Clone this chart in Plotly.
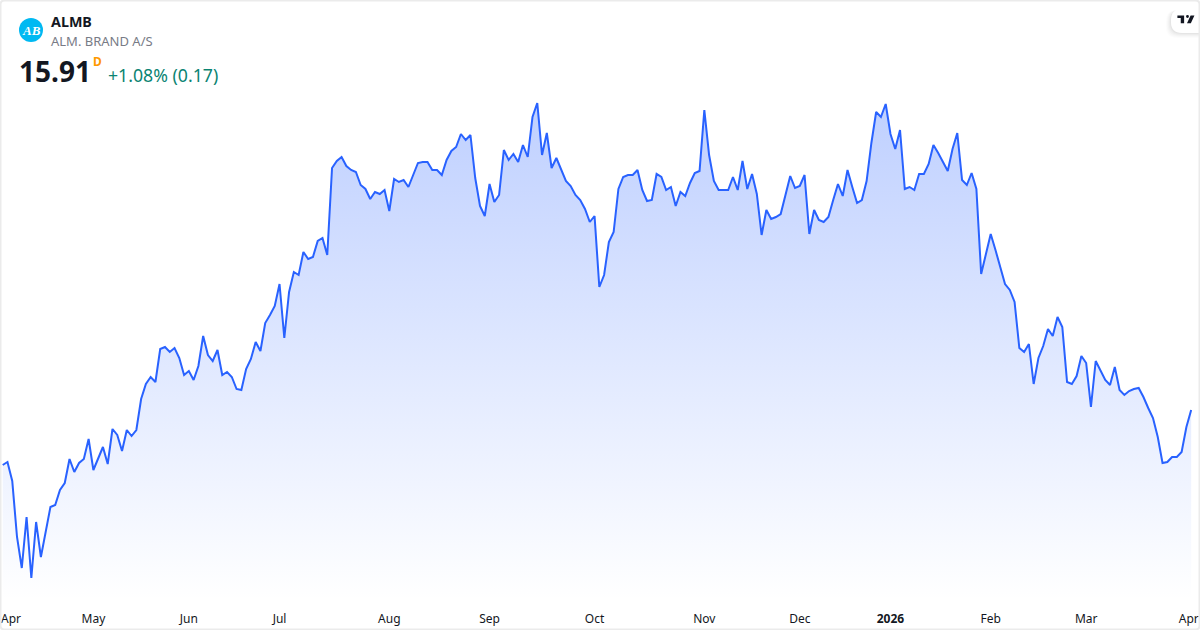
import plotly.graph_objects as go

# daily closes (DKK)
closes = [
    15.36, 15.39, 15.20, 14.64, 14.33, 14.84, 14.23, 14.79, 14.44, 14.68,
    14.94, 14.96, 15.11, 15.18, 15.42, 15.29, 15.38, 15.42, 15.62, 15.31,
    15.43, 15.54, 15.37, 15.72, 15.66, 15.50, 15.71, 15.65, 15.71, 16.02,
    16.17, 16.24, 16.19, 16.52, 16.54, 16.49, 16.53, 16.43, 16.26, 16.30,
    16.21, 16.35, 16.65, 16.46, 16.40, 16.51, 16.26, 16.29, 16.24, 16.12,
    16.11, 16.32, 16.42, 16.59, 16.50, 16.78, 16.86, 16.95, 17.17, 16.63,
    17.09, 17.29, 17.26, 17.49, 17.42, 17.44, 17.60, 17.63, 17.46, 18.33,
    18.40, 18.44, 18.35, 18.31, 18.29, 18.16, 18.12, 18.02, 18.09, 18.07,
    18.11, 17.90, 18.22, 18.19, 18.21, 18.14, 18.26, 18.38, 18.39, 18.39,
    18.31, 18.31, 18.26, 18.41, 18.50, 18.54, 18.67, 18.61, 18.66, 18.23,
    17.95, 17.85, 18.17, 17.99, 18.06, 18.51, 18.41, 18.47, 18.39, 18.56,
    18.44, 18.84, 18.98, 18.46, 18.68, 18.33, 18.43, 18.32, 18.20, 18.15,
    18.06, 18.01, 17.92, 17.79, 17.85, 17.14, 17.26, 17.59, 17.69, 18.12,
    18.24, 18.26, 18.26, 18.31, 18.11, 18.00, 18.01, 18.27, 18.24, 18.11,
    18.14, 17.95, 18.09, 18.05, 18.18, 18.28, 18.30, 18.91, 18.46, 18.20,
    18.11, 18.11, 18.11, 18.24, 18.11, 18.40, 18.12, 18.27, 18.07, 17.66,
    17.91, 17.82, 17.84, 17.87, 18.06, 18.25, 18.13, 18.15, 18.26, 17.67,
    17.91, 17.81, 17.79, 17.84, 18.01, 18.17, 18.05, 18.31, 18.14, 17.98,
    18.01, 18.20, 18.58, 18.89, 18.84, 18.97, 18.67, 18.52, 18.71, 18.12,
    18.14, 18.11, 18.27, 18.27, 18.37, 18.56, 18.48, 18.39, 18.30, 18.52,
    18.68, 18.21, 18.16, 18.28, 18.12, 17.27, 17.48, 17.67, 17.51, 17.34,
    17.17, 17.11, 16.99, 16.53, 16.49, 16.57, 16.17, 16.43, 16.55, 16.72,
    16.65, 16.84, 16.74, 16.19, 16.17, 16.25, 16.45, 16.38, 15.94, 16.40,
    16.31, 16.21, 16.16, 16.34, 16.11, 16.06, 16.10, 16.12, 16.13, 16.04,
    15.93, 15.83, 15.64, 15.38, 15.39, 15.44, 15.44, 15.49, 15.74, 15.91,
]
sessions = list(range(len(closes)))

month_labels = ["Apr", "May", "Jun", "Jul", "Aug", "Sep", "Oct", "Nov", "Dec", "<b>2026</b>", "Feb", "Mar", "Apr"]
# first and last label sit inside the frame, hence the fractional positions
month_ticks = [1.74, 19, 39, 58, 81, 102, 124, 147, 167, 186, 207, 227, 248.5]

W, H = 1200, 630
PLOT_H = 600  # paper coords only cover the plot area, the axis strip is below it
FONT = "Noto Sans"


def px(x):
    return x / W


def py(y):
    return 1 - y / PLOT_H


def rect_path(x0, y0, x1, y1, r, right_round=False):
    # pixel rectangle with rounded left corners, in paper coords
    left = (
        f"L {px(x0 + r)} {py(y0)} "
        f"Q {px(x0)} {py(y0)} {px(x0)} {py(y0 + r)} L {px(x0)} {py(y1 - r)} "
        f"Q {px(x0)} {py(y1)} {px(x0 + r)} {py(y1)} "
    )
    if right_round:
        return (
            f"M {px(x1 - r)} {py(y0)} " + left +
            f"L {px(x1 - r)} {py(y1)} Q {px(x1)} {py(y1)} {px(x1)} {py(y1 - r)} "
            f"L {px(x1)} {py(y0 + r)} Q {px(x1)} {py(y0)} {px(x1 - r)} {py(y0)} Z"
        )
    return f"M {px(x1)} {py(y0)} " + left + f"L {px(x1)} {py(y1)} Z"


def label(text, x, y, size, color, weight=None, family=FONT):
    if weight:
        text = f"<b>{text}</b>"
    return dict(
        text=text, x=px(x), y=py(y), xref="paper", yref="paper",
        xanchor="left", yanchor="middle", showarrow=False,
        font=dict(size=size, color=color, family=family),
    )


fig = go.Figure()
fig.add_trace(go.Scatter(
    x=sessions,
    y=closes,
    mode="lines",
    line=dict(color="#2962FF", width=2),
    fill="tozeroy",
    fillgradient=dict(
        type="vertical",
        start=14.01,
        stop=18.98,
        colorscale=[[0, "rgba(41,98,255,0.0)"], [1, "rgba(41,98,255,0.3)"]],
    ),
    hoverinfo="skip",
))

# TradingView badge, top right
shapes = []
for grow, alpha in [(5, 0.012), (4, 0.016), (3, 0.02), (2, 0.025), (1, 0.03)]:
    shapes.append(dict(
        type="path", xref="paper", yref="paper", layer="above", line_width=0,
        path=rect_path(1171 - grow, 10, 1200, 33 + grow, 11),
        fillcolor=f"rgba(0,0,0,{alpha})",
    ))
shapes.append(dict(
    type="path", xref="paper", yref="paper", layer="above", line_width=0,
    path=rect_path(1171, 9, 1200, 33, 11), fillcolor="white",
))
lx, ly, s = 1177.4, 12.6, 0.48
glyph = (
    f"M {px(lx + 14 * s)} {py(ly + 22 * s)} L {px(lx + 7 * s)} {py(ly + 22 * s)} "
    f"L {px(lx + 7 * s)} {py(ly + 11 * s)} L {px(lx)} {py(ly + 11 * s)} "
    f"L {px(lx)} {py(ly + 6 * s)} L {px(lx + 14 * s)} {py(ly + 6 * s)} Z "
    f"M {px(lx + 28 * s)} {py(ly + 22 * s)} L {px(lx + 20 * s)} {py(ly + 22 * s)} "
    f"L {px(lx + 27.5 * s)} {py(ly + 6 * s)} L {px(lx + 35.5 * s)} {py(ly + 6 * s)} Z"
)
shapes.append(dict(
    type="path", xref="paper", yref="paper", layer="above", line_width=0,
    path=glyph, fillcolor="#131722",
))
shapes.append(dict(
    type="circle", xref="paper", yref="paper", layer="above", line_width=0,
    x0=px(lx + 18 * s), x1=px(lx + 24 * s), y0=py(ly + 5 * s), y1=py(ly + 11 * s),
    fillcolor="#131722",
))

# symbol logo
shapes.append(dict(
    type="circle", xref="paper", yref="paper", layer="above", line_width=0,
    x0=px(19), x1=px(43), y0=py(18), y1=py(42), fillcolor="#00B9F2",
))

# frame, rounded corners
shapes.append(dict(
    type="path", xref="paper", yref="paper", layer="above",
    path=rect_path(0.5, 0.5, 1199.5, 629.5, 4, right_round=True),
    line=dict(color="#EBEBEB", width=2), fillcolor="rgba(0,0,0,0)",
))

annotations = [
    label("ALMB", 49, 21, 14.3, "#131722", weight=True),
    label("ALM. BRAND A/S", 49, 41, 13, "#787B86"),
    label("15.91", 17, 71, 28, "#131722", weight=True),
    label("D", 91, 61, 12, "#FF9800", weight=True),
    label("+1.08% (0.17)", 106, 75, 17.7, "#0B8472"),
    dict(
        text="<b><i>AB</i></b>", x=px(31), y=py(30.5), xref="paper", yref="paper",
        xanchor="center", yanchor="middle", showarrow=False,
        font=dict(size=13, color="white", family="Liberation Serif"),
    ),
]

fig.update_layout(
    width=W,
    height=H,
    margin=dict(l=0, r=0, t=0, b=30),
    paper_bgcolor="white",
    plot_bgcolor="white",
    showlegend=False,
    font=dict(family=FONT, color="#131722", size=12),
    xaxis=dict(
        range=[-0.566, 250.85],
        tickmode="array",
        tickvals=month_ticks,
        ticktext=month_labels,
        showgrid=False,
        zeroline=False,
        showline=False,
        ticks="",
        tickangle=0,
        ticklabelstandoff=10,
        tickfont=dict(size=12, color="#131722", family=FONT),
    ),
    yaxis=dict(
        range=[14.01, 20.01],
        showgrid=False,
        zeroline=False,
        showline=False,
        showticklabels=False,
        ticks="",
    ),
    shapes=shapes,
    annotations=annotations,
)

fig.write_html(
    "out.html",
    config=dict(displayModeBar=False),
    post_script="document.body.style.margin='0';document.documentElement.style.overflow='hidden';",
)
